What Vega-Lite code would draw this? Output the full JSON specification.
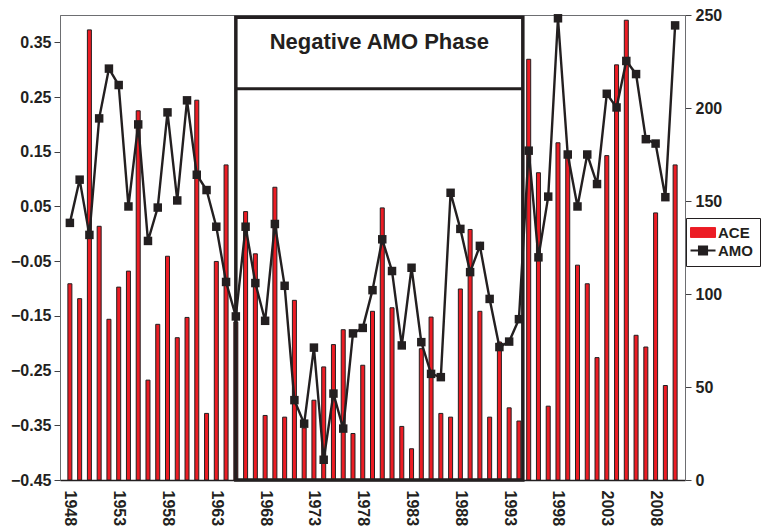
{
  "$schema": "https://vega.github.io/schema/vega-lite/v6.json",
  "width": 625,
  "height": 465,
  "autosize": {"type": "none"},
  "padding": {"left": 60, "top": 15, "right": 76, "bottom": 48},
  "background": "white",
  "config": {
    "view": {"stroke": "#6d6e71", "strokeWidth": 1},
    "font": "Liberation Sans",
    "axis": {
      "labelFont": "Liberation Sans",
      "labelFontWeight": "bold",
      "labelFontSize": 16,
      "labelColor": "#231f20",
      "grid": false,
      "domainColor": "#414042",
      "tickColor": "#414042"
    }
  },
  "datasets": {
    "series": [
      {"year": 1948, "ACE": 105.5, "AMO": 0.020},
      {"year": 1949, "ACE": 97.5, "AMO": 0.099},
      {"year": 1950, "ACE": 242, "AMO": -0.002},
      {"year": 1951, "ACE": 136.4, "AMO": 0.211},
      {"year": 1952, "ACE": 86.4, "AMO": 0.302},
      {"year": 1953, "ACE": 103.7, "AMO": 0.272},
      {"year": 1954, "ACE": 112.3, "AMO": 0.050},
      {"year": 1955, "ACE": 198.5, "AMO": 0.200},
      {"year": 1956, "ACE": 53.7, "AMO": -0.013},
      {"year": 1957, "ACE": 83.7, "AMO": 0.048},
      {"year": 1958, "ACE": 120.3, "AMO": 0.222},
      {"year": 1959, "ACE": 76.5, "AMO": 0.061},
      {"year": 1960, "ACE": 87.4, "AMO": 0.244},
      {"year": 1961, "ACE": 204.2, "AMO": 0.108},
      {"year": 1962, "ACE": 35.8, "AMO": 0.080},
      {"year": 1963, "ACE": 117.5, "AMO": 0.013},
      {"year": 1964, "ACE": 169.4, "AMO": -0.088},
      {"year": 1965, "ACE": 85, "AMO": -0.151},
      {"year": 1966, "ACE": 144.3, "AMO": 0.013},
      {"year": 1967, "ACE": 121.6, "AMO": -0.090},
      {"year": 1968, "ACE": 34.7, "AMO": -0.159},
      {"year": 1969, "ACE": 157.4, "AMO": 0.018},
      {"year": 1970, "ACE": 33.8, "AMO": -0.095},
      {"year": 1971, "ACE": 96.6, "AMO": -0.304},
      {"year": 1972, "ACE": 28, "AMO": -0.347},
      {"year": 1973, "ACE": 42.9, "AMO": -0.208},
      {"year": 1974, "ACE": 60.8, "AMO": -0.413},
      {"year": 1975, "ACE": 72.8, "AMO": -0.292},
      {"year": 1976, "ACE": 80.8, "AMO": -0.356},
      {"year": 1977, "ACE": 25, "AMO": -0.182},
      {"year": 1978, "ACE": 61.7, "AMO": -0.172},
      {"year": 1979, "ACE": 90.7, "AMO": -0.103},
      {"year": 1980, "ACE": 146.3, "AMO": -0.010},
      {"year": 1981, "ACE": 92.6, "AMO": -0.068},
      {"year": 1982, "ACE": 28.8, "AMO": -0.204},
      {"year": 1983, "ACE": 16.8, "AMO": -0.062},
      {"year": 1984, "ACE": 70.6, "AMO": -0.198},
      {"year": 1985, "ACE": 87.6, "AMO": -0.256},
      {"year": 1986, "ACE": 35.8, "AMO": -0.262},
      {"year": 1987, "ACE": 33.8, "AMO": 0.075},
      {"year": 1988, "ACE": 102.7, "AMO": 0.009},
      {"year": 1989, "ACE": 134.7, "AMO": -0.070},
      {"year": 1990, "ACE": 90.7, "AMO": -0.022},
      {"year": 1991, "ACE": 33.8, "AMO": -0.119},
      {"year": 1992, "ACE": 74.2, "AMO": -0.207},
      {"year": 1993, "ACE": 38.8, "AMO": -0.197},
      {"year": 1994, "ACE": 31.7, "AMO": -0.156},
      {"year": 1995, "ACE": 226.2, "AMO": 0.152},
      {"year": 1996, "ACE": 165.2, "AMO": -0.043},
      {"year": 1997, "ACE": 39.7, "AMO": 0.068},
      {"year": 1998, "ACE": 181.3, "AMO": 0.394},
      {"year": 1999, "ACE": 176, "AMO": 0.145},
      {"year": 2000, "ACE": 115.5, "AMO": 0.050},
      {"year": 2001, "ACE": 105.5, "AMO": 0.145},
      {"year": 2002, "ACE": 65.8, "AMO": 0.091},
      {"year": 2003, "ACE": 174.4, "AMO": 0.256},
      {"year": 2004, "ACE": 223.2, "AMO": 0.231},
      {"year": 2005, "ACE": 247.2, "AMO": 0.316},
      {"year": 2006, "ACE": 77.8, "AMO": 0.292},
      {"year": 2007, "ACE": 71.5, "AMO": 0.173},
      {"year": 2008, "ACE": 143.6, "AMO": 0.165},
      {"year": 2009, "ACE": 50.8, "AMO": 0.067},
      {"year": 2010, "ACE": 169.4, "AMO": 0.381}
    ],
    "phase": [
      {"start": 1965, "end": 1994.4, "bottom": 0, "top": 248.8, "divider": 210.3, "mid": 1979.7, "label_y": 235.5, "label": "Negative AMO Phase"}
    ]
  },
  "layer": [
    {
      "layer": [
        {
          "data": {"name": "series"},
          "mark": {"type": "bar", "size": 4, "stroke": "#231f20", "strokeWidth": 1},
          "encoding": {
            "x": {
              "field": "year", "type": "quantitative", "title": null,
              "scale": {"domain": [1947.5, 2010.5], "nice": false, "zero": false},
              "axis": {
                "values": [1948, 1953, 1958, 1963, 1968, 1973, 1978, 1983, 1988, 1993, 1998, 2003, 2008],
                "format": "d", "labelAngle": 90, "ticks": false, "labelPadding": 10,
                "domainColor": "#231f20", "domainWidth": 1.5
              }
            },
            "y": {
              "field": "ACE", "type": "quantitative", "title": null,
              "scale": {"domain": [0, 250], "nice": false, "zero": true},
              "axis": {"orient": "right", "values": [0, 50, 100, 150, 200, 250], "tickSize": 6, "labelPadding": 4, "domainColor": "#6d6e71"}
            },
            "color": {
              "datum": "ACE", "type": "nominal",
              "scale": {"domain": ["ACE", "AMO"], "range": ["#ec1c24", "#231f20"]},
              "legend": {
                "orient": "none", "legendX": 626, "legendY": 203,
                "title": null, "strokeColor": "#231f20", "fillColor": "white",
                "padding": 7, "symbolSize": 324, "rowPadding": 1, "labelOffset": 10,
                "labelFont": "Liberation Sans", "labelFontSize": 15, "labelFontWeight": "bold", "labelColor": "#231f20",
                "symbolType": {"expr": "datum.value === 'ACE' ? 'M-1.11,-0.55H1.67V0.55H-1.11Z' : 'M-1.11,0H1.67M-0.17,-0.45H0.73V0.45H-0.17Z'"},
                "symbolStrokeColor": "#231f20",
                "symbolStrokeWidth": {"expr": "datum.value === 'ACE' ? 1 : 2"},
                "symbolOpacity": 1
              }
            }
          }
        },
        {
          "data": {"name": "phase"},
          "mark": {"type": "rect", "fill": "white", "fillOpacity": 0, "stroke": "#231f20", "strokeWidth": 3.5},
          "encoding": {
            "x": {"field": "start", "type": "quantitative", "title": null},
            "x2": {"field": "end"},
            "y": {"field": "bottom", "type": "quantitative", "title": null},
            "y2": {"field": "top"}
          }
        },
        {
          "data": {"name": "phase"},
          "mark": {"type": "rule", "stroke": "#231f20", "strokeWidth": 3},
          "encoding": {
            "x": {"field": "start", "type": "quantitative", "title": null},
            "x2": {"field": "end"},
            "y": {"field": "divider", "type": "quantitative", "title": null}
          }
        },
        {
          "data": {"name": "phase"},
          "mark": {"type": "text", "font": "Liberation Sans", "fontSize": 22, "fontWeight": "bold", "color": "#231f20", "align": "center", "baseline": "middle"},
          "encoding": {
            "x": {"field": "mid", "type": "quantitative", "title": null},
            "y": {"field": "label_y", "type": "quantitative", "title": null},
            "text": {"field": "label"}
          }
        }
      ]
    },
    {
      "data": {"name": "series"},
      "mark": {"type": "line", "strokeWidth": 2.4, "point": {"shape": "square", "size": 72, "filled": true, "opacity": 1}},
      "encoding": {
        "x": {"field": "year", "type": "quantitative", "title": null},
        "y": {
          "field": "AMO", "type": "quantitative", "title": null,
          "scale": {"domain": [-0.45, 0.4], "nice": false, "zero": false},
          "axis": {"orient": "left", "values": [-0.45, -0.35, -0.25, -0.15, -0.05, 0.05, 0.15, 0.25, 0.35], "format": ".2f", "tickSize": 6, "labelPadding": 3, "domainColor": "#6d6e71"}
        },
        "color": {"datum": "AMO", "type": "nominal"}
      }
    }
  ],
  "resolve": {"scale": {"y": "independent"}}
}
